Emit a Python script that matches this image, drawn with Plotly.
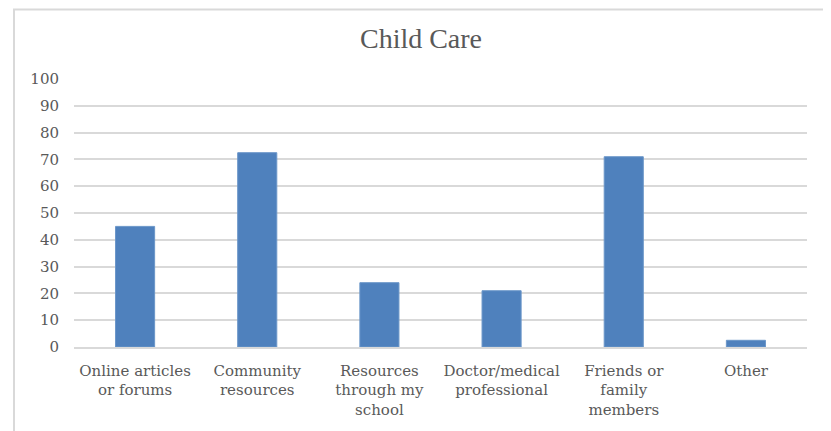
import plotly.graph_objects as go

categories = [
    "Online articles<br>or forums",
    "Community<br>resources",
    "Resources<br>through my<br>school",
    "Doctor/medical<br>professional",
    "Friends or<br>family<br>members",
    "Other",
]
values = [45, 72.5, 24, 21, 71, 2.5]
y_ticks = list(range(0, 101, 10))

# The page body has an 8px margin; figure is sized so the visible window matches.
OFF = 8
W, H = 831 - OFF, 431 - OFF
L, R, T, B = 74 - OFF, 24, 79 - OFF, 82
pw = W - L - R
ph = H - T - B

fig = go.Figure(
    go.Bar(
        x=categories,
        y=values,
        marker=dict(color="#4F81BD", line=dict(color="#6B96C9", width=1)),
        width=0.32,
    )
)

def px_to_paper_x(px):
    return (px - OFF - L) / pw

def px_to_paper_y(py):
    return (H - B - (py - OFF)) / ph

fig.add_shape(
    type="rect", xref="paper", yref="paper",
    x0=px_to_paper_x(14), x1=px_to_paper_x(828),
    y0=px_to_paper_y(460), y1=px_to_paper_y(9),
    line=dict(color="#D9D9D9", width=2), fillcolor="rgba(0,0,0,0)", layer="below",
)

fig.update_layout(
    width=W, height=H,
    margin=dict(l=L, r=R, t=T, b=B),
    paper_bgcolor="white", plot_bgcolor="white",
    showlegend=False,
    title=dict(
        text="Child Care", x=(421 - OFF) / W, xref="container", xanchor="center",
        y=1 - (38 - OFF) / H, yanchor="middle",
        font=dict(family="Liberation Serif", size=28, color="#595959"),
    ),
    font=dict(family="DejaVu Serif", size=15, color="#595959"),
    xaxis=dict(
        showgrid=False, showline=True, linecolor="#D9D9D9", linewidth=1.5,
        ticks="", tickfont=dict(family="DejaVu Serif", size=15, color="#595959"),
        ticklabelstandoff=9,
        fixedrange=True,
    ),
    yaxis=dict(
        range=[0, 100], tickvals=y_ticks, ticktext=[str(v) for v in y_ticks],
        showgrid=True, gridcolor="#D9D9D9", gridwidth=1.5,
        zeroline=False, showline=False, ticks="",
        ticklabelstandoff=14,
        tickfont=dict(family="DejaVu Serif", size=15, color="#595959"),
    ),
)

fig.write_html("out.html")
